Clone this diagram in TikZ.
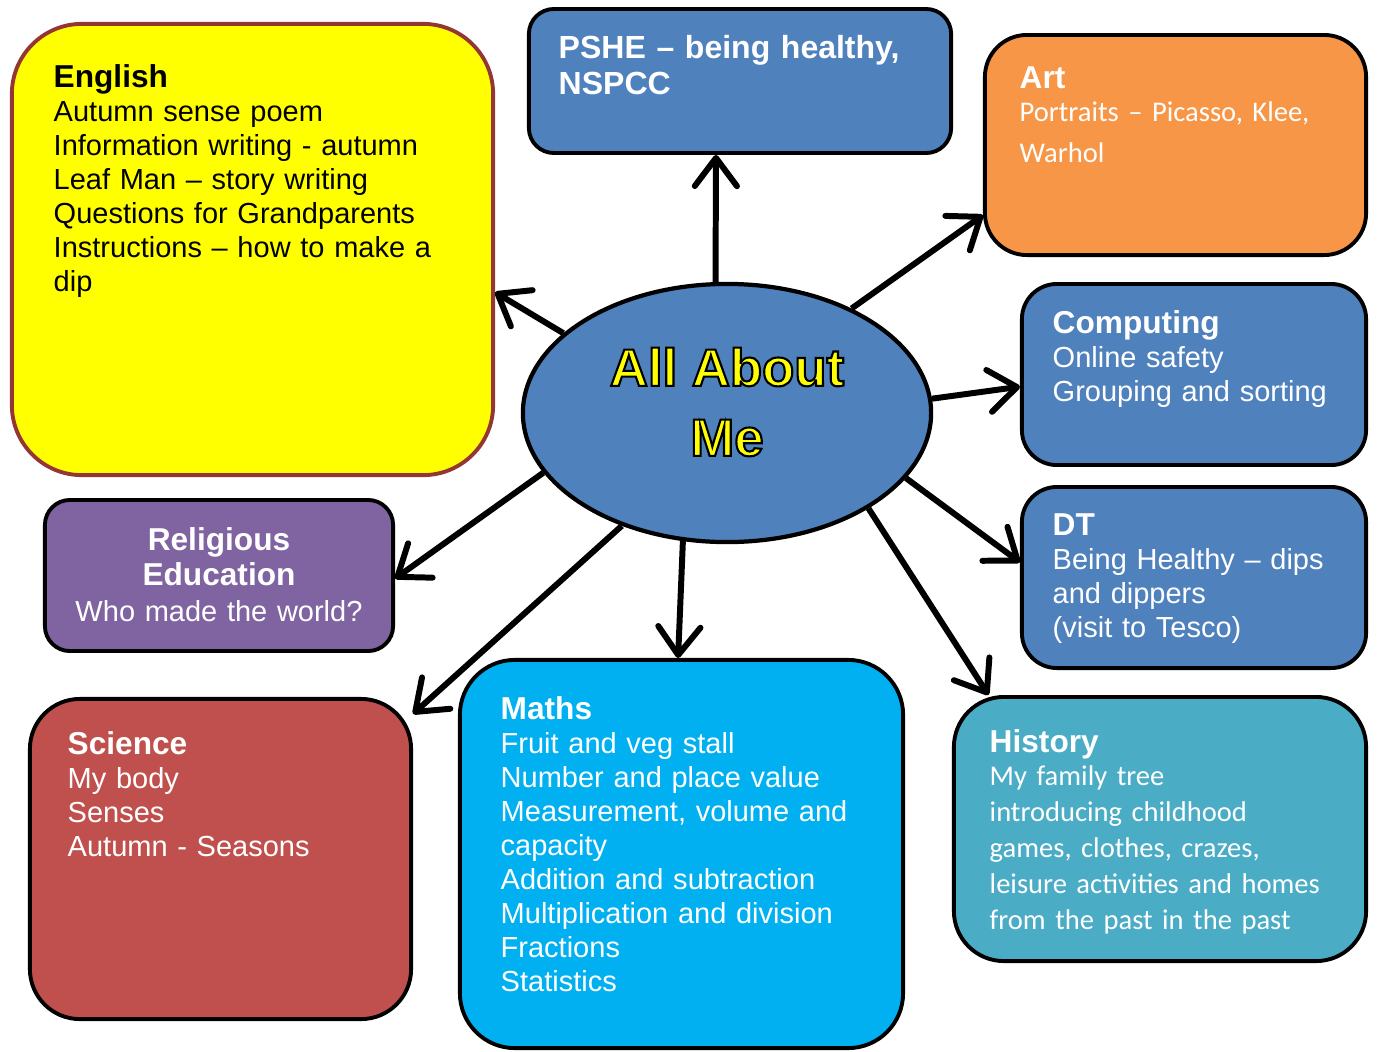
\documentclass[tikz,border=0pt]{standalone}
\usepackage{fontspec}
\setmainfont{Liberation Sans}
\newfontfamily\calibri{Carlito}
\usetikzlibrary{arrows.meta,shapes.geometric}

\definecolor{engyellow}{HTML}{FFFF00}
\definecolor{engborder}{HTML}{943634}
\definecolor{boxblue}{HTML}{4F81BD}
\definecolor{artorange}{HTML}{F79646}
\definecolor{histteal}{HTML}{4BACC6}
\definecolor{mathcyan}{HTML}{00B0F0}
\definecolor{scired}{HTML}{C0504D}
\definecolor{repurple}{HTML}{8064A2}

\tikzset{
  topic/.style={draw=black, line width=1.1pt, fill=#1},
  topictext/.style={text=white, align=left, anchor=base west, inner sep=0pt,
    font=\fontsize{8.25}{9.67}\selectfont},
  link/.style={line width=1.7pt, -{Straight Barb[length=8pt,width=12pt,round]}}
}
\newcommand{\subj}[1]{{\rmfamily\fontsize{9}{9.67}\selectfont\bfseries #1}}
% yellow letters with a black rim
\newcommand{\rimtext}[1]{\special{pdf:literal direct 0 0 0 RG 2 Tr 0.6 w}#1\special{pdf:literal direct 0 Tr}}

\begin{document}
\begin{tikzpicture}[x=0.01cm, y=-0.01cm]
\useasboundingbox (0,0) rectangle (1379,1051);

%boxes
	\node[topic=engyellow, draw=engborder, rounded corners=0.7cm, minimum width=4.81cm, minimum height=4.51cm] (english) at (252.5,249.5) {};
	\node[topic=boxblue, rounded corners=0.25cm, minimum width=4.22cm, minimum height=1.44cm] (pshe) at (740,81) {};
	\node[topic=artorange, rounded corners=0.42cm, minimum width=3.81cm, minimum height=2.20cm] (art) at (1175.5,145) {};
	\node[topic=boxblue, rounded corners=0.35cm, minimum width=3.44cm, minimum height=1.81cm] (computing) at (1194,374.5) {};
	\node[topic=boxblue, rounded corners=0.35cm, minimum width=3.44cm, minimum height=1.81cm] (dt) at (1194,577.5) {};
	\node[topic=histteal, rounded corners=0.5cm, minimum width=4.12cm, minimum height=2.64cm] (history) at (1160,829) {};
	\node[topic=mathcyan, rounded corners=0.55cm, minimum width=4.43cm, minimum height=3.88cm] (maths) at (681.5,854) {};
	\node[topic=scired, rounded corners=0.5cm, minimum width=3.81cm, minimum height=3.20cm] (science) at (220.5,859) {};
	\node[topic=repurple, rounded corners=0.25cm, minimum width=3.48cm, minimum height=1.51cm] (re) at (219,575.5) {};

%middle
	\node[topic=boxblue, ellipse, line width=1.2pt, minimum width=4.08cm, minimum height=2.58cm] (me) at (727,413) {};
	\node[font=\fontsize{15}{19.9}\selectfont\bfseries, text=engyellow, align=center] (titletext) at (727,402)
		{\rimtext{All About}\\\rimtext{Me}};

%texts
	\node[topictext, text=black, text width=4.5cm] (englishtext) at (53,87) {\subj{English}\\Autumn sense poem\\Information writing - autumn\\Leaf Man – story writing\\Questions for Grandparents\\Instructions – how to make a\\dip};
	\node[topictext, text width=4cm, font=\fontsize{9.1}{10.24}\selectfont\bfseries] (pshetext) at (558,58) {PSHE – being healthy,\\NSPCC};
	\node[topictext, text width=3.6cm, font=\calibri\fontsize{8.12}{11.7}\selectfont] (arttext) at (1019,88) {\subj{Art}\\[-2.3pt]Portraits – Picasso, Klee,\\Warhol};
	\node[topictext, text width=3.2cm] (computingtext) at (1052,333) {\subj{Computing}\\Online safety\\Grouping and sorting};
	\node[topictext, text width=3.2cm] (dttext) at (1052,535) {\subj{DT}\\Being Healthy – dips\\and dippers\\(visit to Tesco)};
	\node[topictext, text width=3.9cm, font=\calibri\fontsize{8.12}{10.24}\selectfont] (historytext) at (989,752) {\subj{History}\\[-0.85pt]My family tree\\introducing childhood\\games, clothes, crazes,\\leisure activities and homes\\from the past in the past};
	\node[topictext, text width=4.1cm] (mathstext) at (500,719) {\subj{Maths}\\Fruit and veg stall\\Number and place value\\Measurement, volume and\\capacity\\Addition and subtraction\\Multiplication and division\\Fractions\\Statistics};
	\node[topictext, text width=3.5cm] (sciencetext) at (67,754) {\subj{Science}\\My body\\Senses\\Autumn - Seasons};
	\node[topictext, anchor=base, align=center, text width=3.4cm, font=\fontsize{8.25}{10.1}\selectfont] (retext) at (219,550) {\subj{Religious}\\\subj{Education}\\Who made the world?};

%arrows
	\foreach \from/\to/\at in {95.6/pshe/-108.7, 40/art/200.8, 4.2/computing/184.1, -20/dt/175.9, -34.2/history/142.5,
		-109.7/maths/91.9, -133.6/science/37, -162.5/re/-1.5, 154.2/english/-10.5}{
		\draw[link] (me.\from) -- (\to.\at);
	}

\end{tikzpicture}
\end{document}
